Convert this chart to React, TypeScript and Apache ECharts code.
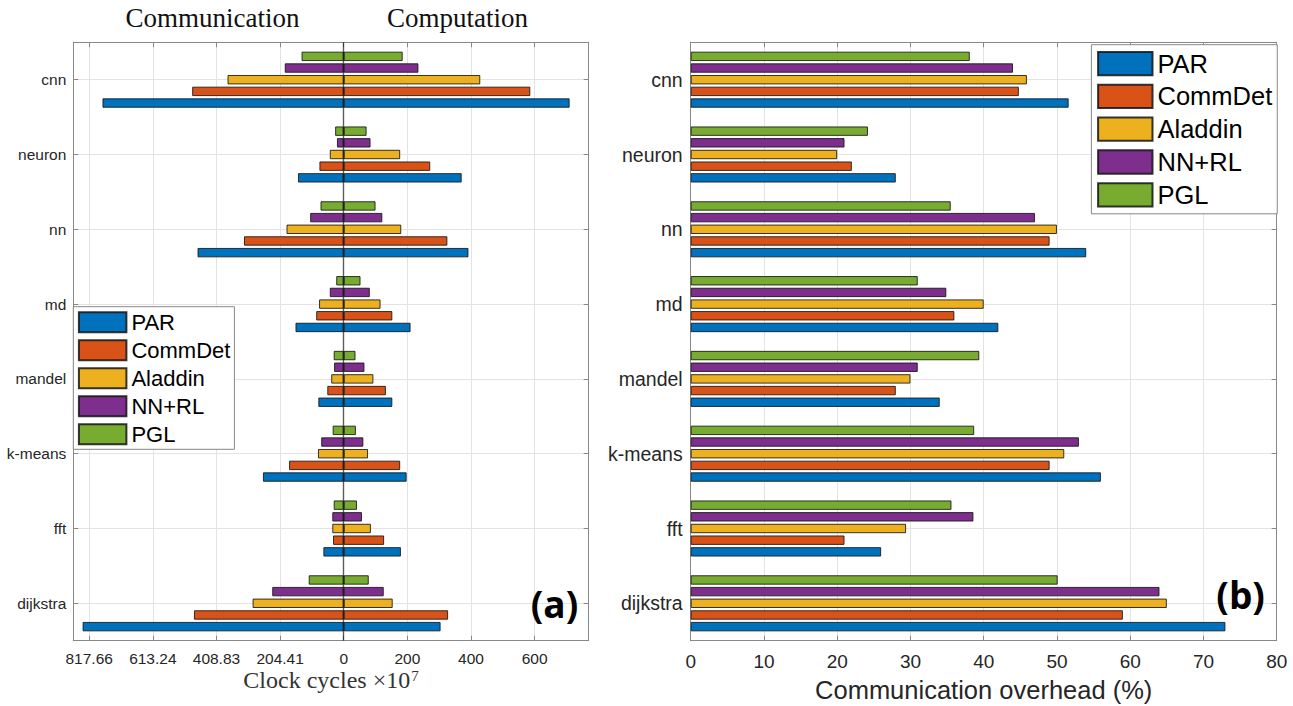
import React, { useEffect, useRef } from 'react';
import * as echarts from 'echarts';

// ---------- data ----------
const categories = ['cnn', 'neuron', 'nn', 'md', 'mandel', 'k-means', 'fft', 'dijkstra'];
const methods = ['PAR', 'CommDet', 'Aladdin', 'NN+RL', 'PGL'];
const colors = ['#0072BD', '#D95319', '#EDB120', '#7E2F8E', '#77AC30'];

// (a) communication clock cycles (x10^7), per category (cnn ... dijkstra)
const commPAR = [775.1, 147.0, 469.7, 155.0, 81.6, 259.5, 65.4, 839.0];
const commCommDet = [486.9, 78.1, 320.4, 88.4, 52.8, 175.7, 34.4, 481.2];
const commAladdin = [373.3, 44.8, 183.8, 79.2, 40.2, 82.7, 36.8, 292.8];
const commNNRL = [189.5, 21.8, 107.9, 44.8, 31.0, 72.4, 36.8, 229.7];
const commPGL = [135.5, 27.6, 74.6, 24.1, 32.2, 35.6, 32.2, 112.5];

// (a) computation clock cycles (x10^7)
const compPAR = [710.1, 370.8, 392.1, 210.1, 152.8, 197.8, 179.8, 304.5];
const compCommDet = [586.5, 271.9, 325.8, 152.8, 132.6, 177.5, 127.0, 328.1];
const compAladdin = [429.2, 177.5, 180.9, 115.7, 93.3, 76.4, 85.4, 153.9];
const compNNRL = [234.8, 84.3, 121.3, 82.0, 65.2, 61.8, 57.3, 125.8];
const compPGL = [185.4, 71.9, 100.0, 52.8, 37.1, 38.2, 41.6, 78.7];

// (b) communication overhead (%)
const ovPAR = [51.6, 28.0, 54.0, 42.0, 34.0, 56.0, 26.0, 73.0];
const ovCommDet = [44.8, 22.0, 49.0, 36.0, 28.0, 49.0, 21.0, 59.0];
const ovAladdin = [45.9, 20.0, 50.0, 40.0, 30.0, 51.0, 29.4, 65.0];
const ovNNRL = [44.0, 21.0, 47.0, 34.9, 31.0, 53.0, 38.6, 64.0];
const ovPGL = [38.1, 24.2, 35.5, 31.0, 39.4, 38.7, 35.6, 50.1];

// left axis tick labels (communication side is rescaled)
const leftTickValues = [-800, -600, -400, -200, 0, 200, 400, 600];
const leftTickLabels = ['817.66', '613.24', '408.83', '204.41', '0', '200', '400', '600'];
const commUnitPerTick = 204.415; // communication cycles per 200 axis units

const commData = [commPAR, commCommDet, commAladdin, commNNRL, commPGL];
const compData = [compPAR, compCommDet, compAladdin, compNNRL, compPGL];
const ovData = [ovPAR, ovCommDet, ovAladdin, ovNNRL, ovPGL];

// ---------- styles ----------
const AXIS = '#888888';
const GRIDC = '#e3e3e3';
const TXT = '#262626';
const SANS = 'Liberation Sans, Arial, sans-serif';
const SERIF = 'Liberation Serif, Times New Roman, serif';

function buildOption() {
  const leftFmt = (v: number) => {
    const i = leftTickValues.indexOf(Math.round(v * 1000) / 1000);
    return i >= 0 ? leftTickLabels[i] : '';
  };

  const baseX = (grid: number, pos: string, extra: any, labels: any) => ({
    type: 'value',
    gridIndex: grid,
    position: pos,
    ...extra,
    axisLine: { show: true, onZero: false, lineStyle: { color: AXIS, width: 1 } },
    axisTick: { show: true, inside: true, length: 5, lineStyle: { color: AXIS } },
    axisLabel: labels,
    splitLine: { show: pos === 'bottom', lineStyle: { color: GRIDC, width: 1 } },
  });
  const baseY = (grid: number, pos: string, labels: any) => ({
    type: 'category',
    gridIndex: grid,
    position: pos,
    data: categories,
    inverse: true,
    axisLine: { show: true, onZero: false, lineStyle: { color: AXIS, width: 1 } },
    axisTick: { show: true, inside: true, alignWithLabel: true, length: 5, lineStyle: { color: AXIS } },
    axisLabel: labels,
    splitLine: { show: pos === 'left', alignWithLabel: true, lineStyle: { color: GRIDC, width: 1 } },
  });

  const leftExtent = { min: -850, max: 770, splitNumber: 8 };
  const rightExtent = { min: 0, max: 80, interval: 10 };

  const series: any[] = [];
  const order = [4, 3, 2, 1, 0];
  order.forEach((k, idx) => {
    const itemStyle = { color: colors[k], borderColor: 'rgba(20,20,20,0.85)', borderWidth: 1 };
    series.push({
      type: 'bar',
      name: methods[k],
      xAxisIndex: 0,
      yAxisIndex: 0,
      stack: 'a' + methods[k],
      data: commData[k].map((v) => -v * 200 / commUnitPerTick),
      itemStyle,
      barCategoryGap: '25%',
      barGap: '24%',
    });
    const comp: any = {
      type: 'bar',
      name: methods[k],
      xAxisIndex: 0,
      yAxisIndex: 0,
      stack: 'a' + methods[k],
      data: compData[k],
      itemStyle,
      barCategoryGap: '25%',
      barGap: '24%',
    };
    if (idx === order.length - 1) {
      comp.markLine = {
        silent: true,
        symbol: 'none',
        label: { show: false },
        lineStyle: { color: 'rgba(0,0,0,0.6)', width: 1.4, type: 'solid' },
        data: [{ xAxis: 0 }],
      };
    }
    series.push(comp);
  });
  order.forEach((k) => {
    series.push({
      type: 'bar',
      name: methods[k],
      xAxisIndex: 2,
      yAxisIndex: 2,
      data: ovData[k],
      itemStyle: { color: colors[k], borderColor: 'rgba(20,20,20,0.85)', borderWidth: 1 },
      barCategoryGap: '25%',
      barGap: '24%',
    });
  });

  const legendCommon = {
    data: methods,
    orient: 'vertical',
    icon: 'rect',
    backgroundColor: '#ffffff',
    borderColor: AXIS,
    borderWidth: 1,
    borderRadius: 0,
    selectedMode: false,
    z: 10,
  };

  return {
    animation: false,
    backgroundColor: '#ffffff',
    textStyle: { fontFamily: SANS },
    grid: [
      { left: 73.3, top: 42.3, width: 515.4, height: 598.4, containLabel: false, outerBoundsMode: 'none' },
      { left: 690.7, top: 42.3, width: 586, height: 598.4, containLabel: false, outerBoundsMode: 'none' },
    ],
    xAxis: [
      baseX(0, 'bottom', leftExtent, { show: true, fontSize: 15.5, color: TXT, margin: 10, fontFamily: SANS, formatter: leftFmt, hideOverlap: false }),
      baseX(0, 'top', leftExtent, { show: false }),
      baseX(1, 'bottom', rightExtent, { show: true, fontSize: 19, color: TXT, margin: 11, fontFamily: SANS }),
      baseX(1, 'top', rightExtent, { show: false }),
    ],
    yAxis: [
      baseY(0, 'left', { show: true, interval: 0, fontSize: 15.5, color: TXT, margin: 7, fontFamily: SANS }),
      baseY(0, 'right', { show: false }),
      baseY(1, 'left', { show: true, interval: 0, fontSize: 19.5, color: TXT, margin: 8, fontFamily: SANS }),
      baseY(1, 'right', { show: false }),
    ],
    legend: [
      {
        ...legendCommon,
        left: 73.3,
        top: 306.7,
        itemWidth: 47.5,
        itemHeight: 20,
        itemGap: 6,
        padding: [4.6, 4, 4, 4.6],
        textStyle: { fontSize: 22, color: '#000', fontFamily: SANS },
      },
      {
        ...legendCommon,
        left: 1091.4,
        top: 44.7,
        itemWidth: 54.4,
        itemHeight: 23.3,
        itemGap: 6.8,
        padding: [5.9, 5, 6, 5.7],
        textStyle: { fontSize: 25.5, color: '#000', fontFamily: SANS },
      },
    ],
    graphic: [
      {
        type: 'text', x: 212.5, y: 18, z: 20,
        style: { text: 'Communication', fontSize: 27, fontFamily: SERIF, fill: '#111', align: 'center', verticalAlign: 'middle', textAlign: 'center', textVerticalAlign: 'middle' },
      },
      {
        type: 'text', x: 457.5, y: 18, z: 20,
        style: { text: 'Computation', fontSize: 27, fontFamily: SERIF, fill: '#111', align: 'center', verticalAlign: 'middle', textAlign: 'center', textVerticalAlign: 'middle' },
      },
      {
        type: 'text', x: 331, y: 680, z: 20,
        style: {
          text: '{a|Clock cycles ×10}{b|7}',
          align: 'center', verticalAlign: 'middle', textAlign: 'center', textVerticalAlign: 'middle',
          rich: {
            a: { fontSize: 24, fontFamily: SERIF, fill: '#333', color: '#333' },
            b: { fontSize: 15, fontFamily: SERIF, fill: '#333', color: '#333', verticalAlign: 'top', padding: [0, 0, 0, 1] },
          },
        },
      },
      {
        type: 'text', x: 983.7, y: 690, z: 20,
        style: { text: 'Communication overhead (%)', fontSize: 25.5, fontFamily: SANS, fill: TXT, align: 'center', verticalAlign: 'middle', textAlign: 'center', textVerticalAlign: 'middle' },
      },
      {
        type: 'text', x: 554.5, y: 603, z: 20,
        style: { text: '(a)', fontSize: 37, fontWeight: 'bold', fontFamily: 'Open Sans, sans-serif', fill: '#000', align: 'center', verticalAlign: 'middle', textAlign: 'center', textVerticalAlign: 'middle' },
      },
      {
        type: 'text', x: 1240.6, y: 594.5, z: 20,
        style: { text: '(b)', fontSize: 37, fontWeight: 'bold', fontFamily: 'Open Sans, sans-serif', fill: '#000', align: 'center', verticalAlign: 'middle', textAlign: 'center', textVerticalAlign: 'middle' },
      },
    ],
    series,
  };
}

export default function App() {
  const ref = useRef<HTMLDivElement>(null);
  useEffect(() => {
    if (!ref.current) return;
    const chart = echarts.init(ref.current, null, { renderer: 'svg' });
    chart.setOption(buildOption() as any);
    return () => chart.dispose();
  }, []);
  return <div ref={ref} style={{ position: 'fixed', left: 0, top: 0, width: 1293, height: 706, background: '#fff' }} />;
}
